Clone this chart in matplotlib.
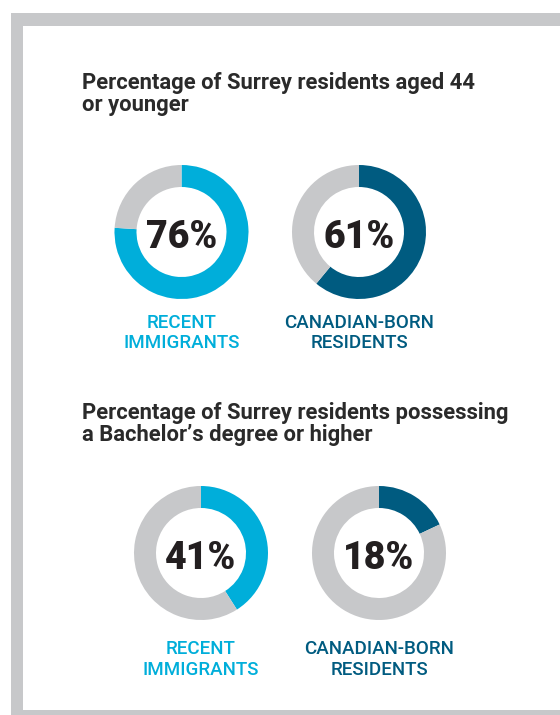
import matplotlib
matplotlib.use("Agg")
import matplotlib.pyplot as plt
from matplotlib.patches import Rectangle

titles = [["Percentage of Surrey residents aged 44", "or younger"],
          ["Percentage of Surrey residents possessing", "a Bachelor\u2019s degree or higher"]]
groups = [["RECENT", "IMMIGRANTS"], ["CANADIAN-BORN", "RESIDENTS"]]
values_age = [76, 61]
values_degree = [41, 18]

LIGHT = "#00AEDA"
DARK = "#005B80"
GRAY = "#C7C8CA"
TEXT = "#231F20"
W, H = 560, 715

fig = plt.figure(figsize=(W / 100, H / 100), dpi=100)
ax = fig.add_axes([0, 0, 1, 1])

def Y(y):
    return H - y

# frame
ax.add_patch(Rectangle((11, Y(715)), 549, 715 - 13, facecolor=GRAY, edgecolor="none"))
ax.add_patch(Rectangle((23, Y(710)), 537, 710 - 26, facecolor="white", edgecolor="none"))

FONT = "Roboto"

rows = [
    (titles[0], values_age, (88.5, 111.5), [(181.5, 232), (359, 232)], (328, 348)),
    (titles[1], values_degree, (419, 441), [(201, 553), (379, 553)], (654, 675)),
]
colors = [LIGHT, DARK]
R = 67
for title, vals, tys, centers, lys in rows:
    for line, ty in zip(title, tys):
        ax.text(82, Y(ty), line, ha="left", va="baseline", fontsize=15.8,
                fontweight="bold", color="#2A2A2A", family=FONT)
    for v, (cx, cy), col, g in zip(vals, centers, colors, groups):
        ax.pie([v, 100 - v], colors=[col, GRAY], startangle=90, counterclock=False,
               center=(cx, Y(cy)), radius=R, wedgeprops=dict(width=22, edgecolor="none"),
               frame=True)
        ax.text(cx, Y(cy + 16.3), f"{v}%", ha="center", va="baseline", fontsize=27,
                fontweight="black", color=TEXT, family=FONT)
        for gl, ly in zip(g, lys):
            ax.text(cx, Y(ly), gl, ha="center", va="baseline", fontsize=13.5, color=col,
                    family=FONT, fontweight="medium")

ax.set_xlim(0, W)
ax.set_ylim(0, H)
ax.set_aspect("equal")
ax.axis("off")
fig.savefig("out.png", dpi=100)
